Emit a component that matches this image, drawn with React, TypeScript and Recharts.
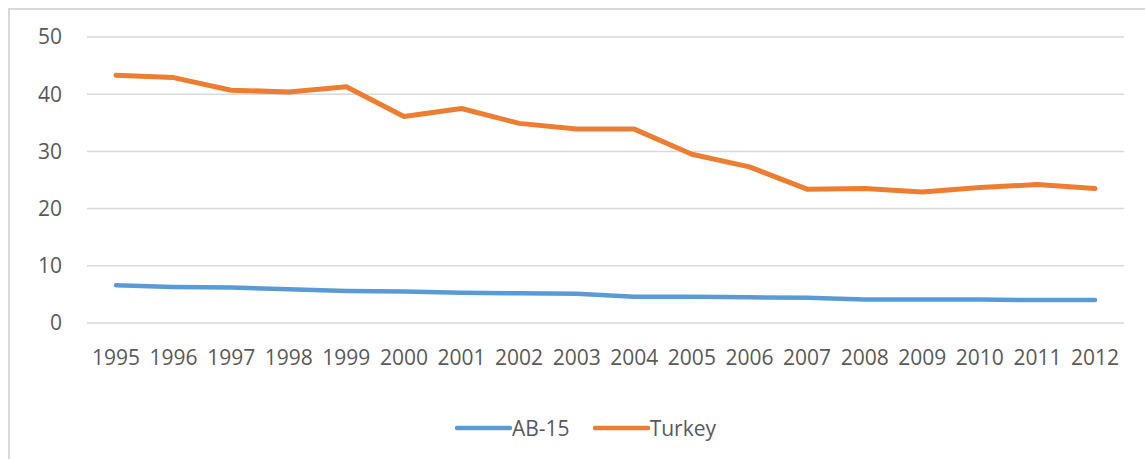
import { LineChart, Line, XAxis, YAxis, CartesianGrid, Legend } from 'recharts'

const years = ['1995', '1996', '1997', '1998', '1999', '2000', '2001', '2002', '2003', '2004', '2005', '2006', '2007', '2008', '2009', '2010', '2011', '2012']
const ab15 = [6.6, 6.3, 6.2, 5.9, 5.6, 5.5, 5.3, 5.2, 5.1, 4.6, 4.6, 4.5, 4.4, 4.1, 4.1, 4.1, 4.0, 4.0]
const turkey = [43.3, 42.9, 40.7, 40.4, 41.3, 36.1, 37.5, 34.9, 33.9, 33.9, 29.5, 27.3, 23.4, 23.5, 22.9, 23.7, 24.2, 23.5]
const yTicks = [0, 10, 20, 30, 40, 50]

const data = years.map((y, i) => ({ year: y, ab15: ab15[i], turkey: turkey[i] }))

const FONT = '"Open Sans", sans-serif'
const TEXT = '#595959'

function LegendBox({ payload }: any) {
  return (
    <div style={{ height: 66, boxSizing: 'border-box', paddingTop: 4, paddingLeft: 47, display: 'flex', justifyContent: 'center', alignItems: 'center', fontFamily: FONT, fontSize: 21, color: TEXT }}>
      {(payload || []).map((p: any, i: number) => (
        <div key={p.value} style={{ display: 'flex', alignItems: 'center', marginLeft: i ? 23 : 0 }}>
          <svg width={57} height={10}>
            <line x1={2} y1={5} x2={55} y2={5} stroke={p.color} strokeWidth={4.5} strokeLinecap="round" />
          </svg>
          <span>{p.value}</span>
        </div>
      ))}
    </div>
  )
}

export default function App() {
  return (
    <div style={{ position: 'absolute', left: 0, top: 0, width: 1145, height: 459, background: '#fff', overflow: 'hidden' }}>
      <div style={{ position: 'absolute', left: 8, top: 8, width: 1200, height: 500, borderLeft: '2px solid #d9d9d9', borderTop: '2px solid #d9d9d9' }} />
      <LineChart width={1145} height={459} data={data} margin={{ top: 37, right: 21, bottom: 0, left: 0 }} style={{ position: 'absolute', left: 0, top: 0 }}>
        <CartesianGrid vertical={false} stroke="#d9d9d9" strokeWidth={1.5} />
        <XAxis dataKey="year" axisLine={false} tickLine={false} tickSize={0} tickMargin={27} height={70} interval={0}
          padding={{ left: 29, right: 29 }}
          tick={{ fill: TEXT, fontSize: 21, fontFamily: FONT }} />
        <YAxis domain={[0, 50]} ticks={yTicks} axisLine={false} tickLine={false} tickSize={0} tickMargin={25} width={87}
          tick={{ fill: TEXT, fontSize: 21, fontFamily: FONT }} />
        <Legend verticalAlign="bottom" height={66} content={<LegendBox />} />
        <Line name="AB-15" dataKey="ab15" stroke="#5B9BD5" strokeWidth={4.5} dot={false} strokeLinecap="round" strokeLinejoin="round" isAnimationActive={false} />
        <Line name="Turkey" dataKey="turkey" stroke="#ED7D31" strokeWidth={5} dot={false} strokeLinecap="round" strokeLinejoin="round" isAnimationActive={false} />
      </LineChart>
    </div>
  )
}
